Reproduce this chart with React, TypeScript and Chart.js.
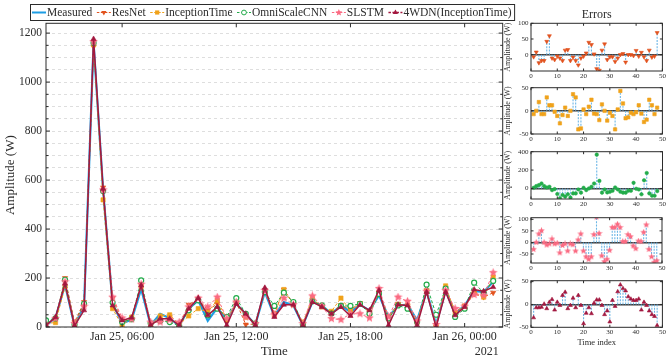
import React, { useEffect, useRef } from "react";
import { Chart, registerables } from "chart.js";

Chart.register(...registerables);

const FONT = "'Liberation Serif', 'Times New Roman', serif";
const INK = "#2b2b2b";

// ---------------- data ----------------
const timeLabels = [
  "2021-01-25T02:00", "2021-01-25T02:30", "2021-01-25T03:00", "2021-01-25T03:30",
  "2021-01-25T04:00", "2021-01-25T04:30", "2021-01-25T05:00", "2021-01-25T05:30",
  "2021-01-25T06:00", "2021-01-25T06:30", "2021-01-25T07:00", "2021-01-25T07:30",
  "2021-01-25T08:00", "2021-01-25T08:30", "2021-01-25T09:00", "2021-01-25T09:30",
  "2021-01-25T10:00", "2021-01-25T10:30", "2021-01-25T11:00", "2021-01-25T11:30",
  "2021-01-25T12:00", "2021-01-25T12:30", "2021-01-25T13:00", "2021-01-25T13:30",
  "2021-01-25T14:00", "2021-01-25T14:30", "2021-01-25T15:00", "2021-01-25T15:30",
  "2021-01-25T16:00", "2021-01-25T16:30", "2021-01-25T17:00", "2021-01-25T17:30",
  "2021-01-25T18:00", "2021-01-25T18:30", "2021-01-25T19:00", "2021-01-25T19:30",
  "2021-01-25T20:00", "2021-01-25T20:30", "2021-01-25T21:00", "2021-01-25T21:30",
  "2021-01-25T22:00", "2021-01-25T22:30", "2021-01-25T23:00", "2021-01-25T23:30",
  "2021-01-26T00:00", "2021-01-26T00:30", "2021-01-26T01:00", "2021-01-26T01:30",
];
const xStart = "2021-01-25T02:00";
const xEnd = "2021-01-26T02:00";
const xTickTimes = ["2021-01-25T06:00", "2021-01-25T12:00", "2021-01-25T18:00", "2021-01-26T00:00"];
const xTickLabels = ["Jan 25, 06:00", "Jan 25, 12:00", "Jan 25, 18:00", "Jan 26, 00:00"];
const yearLabel = "2021";
const yGridValues = [0, 50, 100, 150, 200, 250, 300, 350, 400, 450, 500, 550, 600, 650, 700, 750, 800, 850, 900, 950, 1000, 1050, 1100, 1150, 1200];
const yLabelValues = [0, 200, 400, 600, 800, 1000, 1200];

const measured = [5, 38, 172, 5, 88, 1160, 560, 95, 15, 30, 155, 7, 54, 36, 5, 75, 109, 25, 78, 30, 95, 52, 10, 143, 45, 102, 88, 8, 102, 88, 54, 88, 61, 91, 68, 129, 41, 88, 91, 27, 146, 10, 150, 54, 88, 146, 143, 185];
const resnet = [18, 30, 200, 20, 102, 1145, 570, 118, 25, 32, 172, 12, 30, 40, 8, 91, 115, 68, 95, 25, 100, 10, 12, 150, 55, 153, 95, 12, 110, 85, 58, 90, 70, 98, 62, 140, 35, 95, 85, 15, 150, 0, 160, 60, 88, 135, 122, 140];
const inception = [15, 18, 165, 12, 90, 1152, 519, 75, 5, 40, 165, 10, 45, 50, 10, 45, 75, 61, 110, 30, 100, 40, 15, 145, 50, 153, 90, 20, 116, 82, 64, 118, 68, 95, 60, 140, 40, 92, 90, 20, 145, 5, 168, 58, 85, 140, 122, 204];
const omni = [27, 35, 193, 10, 95, 1160, 555, 100, 20, 32, 190, 15, 25, 20, 5, 68, 109, 48, 75, 41, 118, 54, 14, 143, 86, 140, 102, 10, 105, 88, 55, 86, 86, 95, 54, 135, 35, 88, 75, 20, 173, 50, 157, 41, 75, 181, 140, 188];
const slstm = [10, 35, 185, 15, 85, 1165, 560, 122, 37, 32, 175, 20, 20, 30, 20, 82, 118, 82, 122, 34, 102, 41, 14, 150, 50, 118, 91, 14, 127, 85, 34, 30, 54, 54, 37, 157, 41, 122, 105, 25, 146, 10, 150, 75, 85, 132, 130, 222];
const wdn = [7, 40, 177, 5, 68, 1176, 564, 88, 27, 38, 170, 7, 34, 34, 7, 75, 118, 48, 82, 7, 95, 54, 7, 160, 41, 91, 91, 7, 102, 82, 54, 82, 45, 91, 68, 150, 7, 91, 88, 7, 143, 0, 143, 48, 82, 153, 146, 163];

const errIndex = [1, 2, 3, 4, 5, 6, 7, 8, 9, 10, 11, 12, 13, 14, 15, 16, 17, 18, 19, 20, 21, 22, 23, 24, 25, 26, 27, 28, 29, 30, 31, 32, 33, 34, 35, 36, 37, 38, 39, 40, 41, 42, 43, 44, 45, 46, 47, 48];
const errXTicks = [0, 10, 20, 30, 40, 50];
const errResNet = [-7, 8, -26, -19, -19, 42, 60, -11, -16, -5, -11, -19, 14, 16, -19, -8, -19, -33, -11, -5, 5, 39, 32, 2, -45, -50, 14, 34, -16, -7, -7, -22, -11, 0, 3, -24, 0, 0, -3, 13, -5, 7, -7, -19, 14, -8, -5, 70];
const errInception = [-7, 0, 19, -7, -7, 29, 12, 12, -2, -11, -27, -9, 7, -11, 0, 36, 29, -40, -38, 3, -7, 9, 24, -6, -7, -20, 14, 0, -21, -4, -11, -40, 3, 43, 16, -16, -14, -4, -7, -3, 12, -6, -24, -19, 24, 12, -7, 7];
const errOmni = [7, 25, 36, 54, 25, 11, 18, -18, -7, -61, -107, -71, -89, -64, -100, -54, -54, -11, -46, 7, -18, 0, 18, 54, 368, 82, -46, -11, -43, -36, -25, 11, -11, -36, -46, -46, -25, -25, 61, -4, -11, -64, 89, 168, -54, -79, -79, -29];
const errSLSTM = [-30, 0, 37, 51, 0, -11, -6, 15, -6, -3, -45, -13, -6, -37, -6, -10, -37, 11, 37, -37, -62, -73, -62, 34, 110, 39, -58, -83, -73, -34, 65, 65, 79, 65, 4, 4, 34, 25, -15, -27, 6, 4, 44, 76, -30, -62, -86, -79];
const err4WDN = [-29, -7, -7, -6, 1, -9, 5, 11, -12, 5, -2, 20, 27, -9, -2, 14, -7, 20, -2, -42, -19, -7, -20, 3, 10, 10, -2, -22, -14, -38, 9, -4, 28, 43, 35, 30, 17, 12, 9, 9, 12, -12, 5, -2, -14, -22, -26, -46];

// ---------------- styles ----------------
const C = {
  meas: "#1c9de4",
  res: "#e2531f",
  inc: "#f0a21b",
  omni: "#22ac4a",
  slstm: "#fb6a82",
  wdn: "#a3183f",
  stem: "#6cb6e6",
};

type Marker = "none" | "triDown" | "triUp" | "rect" | "circle" | "star";

const series: { name: string; data: number[]; color: string; width: number; dash: number[]; marker: Marker; order: number }[] = [
  { name: "Measured", data: measured, color: C.meas, width: 2.2, dash: [], marker: "none", order: 6 },
  { name: "ResNet", data: resnet, color: C.res, width: 1, dash: [3, 2], marker: "triDown", order: 5 },
  { name: "InceptionTime", data: inception, color: C.inc, width: 1, dash: [3, 2], marker: "rect", order: 4 },
  { name: "OmniScaleCNN", data: omni, color: C.omni, width: 1, dash: [3, 2], marker: "circle", order: 3 },
  { name: "SLSTM", data: slstm, color: C.slstm, width: 1, dash: [3, 2], marker: "star", order: 2 },
  { name: "4WDN(InceptionTime)", data: wdn, color: C.wdn, width: 1.5, dash: [], marker: "triUp", order: 1 },
];

const toH = (s: string) => (Date.parse(s) - Date.parse(xStart)) / 3600000;

function starPath(g: CanvasRenderingContext2D, cx: number, cy: number, R: number, r: number) {
  g.beginPath();
  for (let k = 0; k < 10; k++) {
    const rad = k % 2 === 0 ? R : r;
    const a = -Math.PI / 2 + (k * Math.PI) / 5;
    const px = cx + rad * Math.cos(a);
    const py = cy + rad * Math.sin(a);
    if (k === 0) g.moveTo(px, py);
    else g.lineTo(px, py);
  }
  g.closePath();
}

function starCanvas(color: string, size: number) {
  const c = document.createElement("canvas");
  c.width = size;
  c.height = size;
  const g = c.getContext("2d")!;
  starPath(g, size / 2, size / 2, size / 2, (size / 2) * 0.45);
  g.fillStyle = color;
  g.fill();
  return c;
}

function pointOpts(marker: Marker, color: string, r: number, hollow: boolean): any {
  switch (marker) {
    case "triDown":
      return { pointStyle: "triangle", pointRotation: 180, pointRadius: r, pointBackgroundColor: color, pointBorderColor: color, pointBorderWidth: 0.6 };
    case "triUp":
      return { pointStyle: "triangle", pointRotation: 0, pointRadius: r, pointBackgroundColor: color, pointBorderColor: color, pointBorderWidth: 0.6 };
    case "rect":
      return { pointStyle: "rect", pointRadius: r, pointBackgroundColor: color, pointBorderColor: color, pointBorderWidth: 0.6 };
    case "circle":
      return {
        pointStyle: "circle",
        pointRadius: r,
        pointBackgroundColor: hollow ? "#ffffff" : color,
        pointBorderColor: color,
        pointBorderWidth: hollow ? 1.2 : 0.5,
      };
    case "star":
      return { pointStyle: starCanvas(color, Math.round(r * 2.9)), pointRadius: r };
    default:
      return { pointRadius: 0 };
  }
}

function drawMarker(ctx: CanvasRenderingContext2D, m: Marker, x: number, y: number, r: number, color: string) {
  ctx.save();
  ctx.fillStyle = color;
  ctx.strokeStyle = color;
  ctx.setLineDash([]);
  ctx.lineWidth = 1;
  ctx.beginPath();
  if (m === "triUp" || m === "triDown") {
    const s = m === "triUp" ? 1 : -1;
    ctx.moveTo(x, y - s * r);
    ctx.lineTo(x + r * 0.866, y + s * r * 0.5);
    ctx.lineTo(x - r * 0.866, y + s * r * 0.5);
    ctx.closePath();
    ctx.fill();
  } else if (m === "rect") {
    ctx.rect(x - r * 0.7, y - r * 0.7, r * 1.4, r * 1.4);
    ctx.fill();
  } else if (m === "circle") {
    ctx.fillStyle = "#fff";
    ctx.arc(x, y, r * 0.8, 0, Math.PI * 2);
    ctx.fill();
    ctx.stroke();
  } else if (m === "star") {
    starPath(ctx, x, y, r * 1.2, r * 0.55);
    ctx.fill();
  }
  ctx.restore();
}

const mainDeco = {
  id: "mainDeco",
  afterDraw(chart: any) {
    const { ctx, chartArea: a, scales } = chart;
    const line = (x1: number, y1: number, x2: number, y2: number) => {
      ctx.beginPath();
      ctx.moveTo(x1, y1);
      ctx.lineTo(x2, y2);
      ctx.stroke();
    };
    ctx.save();
    ctx.strokeStyle = INK;
    ctx.lineWidth = 1;
    ctx.setLineDash([]);
    ctx.strokeRect(a.left, a.top, a.right - a.left, a.bottom - a.top);
    for (const v of yGridValues) {
      const y = scales.y.getPixelForValue(v);
      const len = v % 200 === 0 ? 4 : 2.5;
      line(a.left, y, a.left + len, y);
      line(a.right, y, a.right - len, y);
    }
    for (const t of xTickTimes) {
      const x = scales.x.getPixelForValue(toH(t));
      line(x, a.top, x, a.top + 4);
      line(x, a.bottom, x, a.bottom - 4);
    }
    ctx.fillStyle = INK;
    ctx.font = `12px ${FONT}`;
    ctx.textAlign = "right";
    ctx.textBaseline = "middle";
    ctx.fillText(yearLabel, a.right - 4, 351.5);

    // legend
    const ly = 12.5;
    const boxLeft = 30.5;
    ctx.font = `11.5px ${FONT}`;
    let x = 32;
    const pos: { x: number; tx: number }[] = [];
    for (const s of series) {
      const tw = ctx.measureText(s.name).width;
      pos.push({ x, tx: x + 15 });
      x = x + 15 + tw + 4.5;
    }
    const boxRight = x - 1.5;
    ctx.fillStyle = "#ffffff";
    ctx.fillRect(boxLeft, 4.5, boxRight - boxLeft, 16);
    ctx.strokeStyle = INK;
    ctx.lineWidth = 1;
    ctx.strokeRect(boxLeft, 4.5, boxRight - boxLeft, 16);
    series.forEach((s, i) => {
      const p = pos[i];
      ctx.save();
      ctx.strokeStyle = s.color;
      ctx.lineWidth = s.marker === "none" ? 2 : s.width;
      ctx.setLineDash(s.marker === "none" ? [] : [2.5, 1.5]);
      line(p.x, ly, p.x + 14, ly);
      ctx.restore();
      if (s.marker !== "none") drawMarker(ctx, s.marker, p.x + 7, ly, 3, s.color);
      ctx.fillStyle = INK;
      ctx.textAlign = "left";
      ctx.textBaseline = "middle";
      ctx.fillText(s.name, p.tx, ly + 0.5);
    });
    ctx.restore();
  },
};

function MainChart() {
  const ref = useRef<HTMLCanvasElement>(null);
  useEffect(() => {
    const xs = timeLabels.map(toH);
    const datasets = series.map((s) => ({
      label: s.name,
      data: s.data.map((y, i) => ({ x: xs[i], y })),
      borderColor: s.color,
      backgroundColor: s.color,
      borderWidth: s.width,
      borderDash: s.dash,
      tension: 0,
      order: s.order,
      ...pointOpts(s.marker, s.color, s.marker === "circle" ? 2.5 : 3, true),
    }));
    const chart = new Chart(ref.current!, {
      type: "line",
      data: { datasets },
      plugins: [mainDeco],
      options: {
        animation: false,
        responsive: false,
        maintainAspectRatio: false,
        layout: { padding: { top: 23.3, right: 164.3, left: 0, bottom: 0 } },
        plugins: { legend: { display: false }, tooltip: { enabled: false } },
        scales: {
          x: {
            type: "linear",
            min: 0,
            max: toH(xEnd),
            afterBuildTicks: (s: any) => {
              s.ticks = xTickTimes.map((t) => ({ value: toH(t) }));
            },
            afterFit: (s: any) => {
              s.height = 34;
            },
            ticks: {
              autoSkip: false,
              maxRotation: 0,
              padding: 3,
              color: INK,
              font: { family: FONT, size: 12 },
              callback: (v: any) => {
                const k = xTickTimes.findIndex((t) => Math.abs(toH(t) - Number(v)) < 1e-6);
                return k >= 0 ? xTickLabels[k] : "";
              },
            },
            grid: { display: false, drawTicks: false },
            border: { display: false },
            title: { display: true, text: "Time", color: INK, font: { family: FONT, size: 13 }, padding: { top: 0, bottom: 1.5 } },
          },
          y: {
            type: "linear",
            min: 0,
            max: 1240,
            afterBuildTicks: (s: any) => {
              s.ticks = yGridValues.map((v) => ({ value: v }));
            },
            afterFit: (s: any) => {
              s.width = 46;
            },
            ticks: {
              autoSkip: false,
              padding: 4,
              color: INK,
              font: { family: FONT, size: 11.5 },
              callback: (v: any) => (yLabelValues.includes(Number(v)) ? String(v) : ""),
            },
            grid: { color: "#d6d6d6", lineWidth: 0.8, drawTicks: false },
            border: { display: false, dash: [3, 3] },
            title: { display: true, text: "Amplitude (W)", color: INK, font: { family: FONT, size: 13 }, padding: { top: 3, bottom: 0 } },
          },
        },
      } as any,
    });
    return () => chart.destroy();
  }, []);
  return <canvas ref={ref} width={667} height={361} style={{ position: "absolute", left: 0, top: 0 }} />;
}

type PanelCfg = {
  name: string;
  values: number[];
  color: string;
  marker: Marker;
  min: number;
  max: number;
  ticks: number[];
  plotTop: number;
  plotBottom: number;
  title?: string;
  xTitle?: string;
};

const panels: PanelCfg[] = [
  { name: "ResNet", values: errResNet, color: C.res, marker: "triDown", min: -52, max: 100, ticks: [0, 50, 100], plotTop: 23.3, plotBottom: 71.3, title: "Errors" },
  { name: "InceptionTime", values: errInception, color: C.inc, marker: "rect", min: -50, max: 50, ticks: [-50, 0, 50], plotTop: 87.3, plotBottom: 134.3 },
  { name: "OmniScaleCNN", values: errOmni, color: C.omni, marker: "circle", min: -115, max: 400, ticks: [0, 200, 400], plotTop: 151, plotBottom: 199 },
  { name: "SLSTM", values: errSLSTM, color: C.slstm, marker: "star", min: -89, max: 107, ticks: [-50, 0, 50, 100], plotTop: 216.7, plotBottom: 263 },
  { name: "4WDN(InceptionTime)", values: err4WDN, color: C.wdn, marker: "triUp", min: -50, max: 52, ticks: [-50, 0, 50], plotTop: 279.5, plotBottom: 326.3, xTitle: "Time index" },
];

const panelMarkerRadius: Record<string, number> = { triDown: 2.3, triUp: 2.3, rect: 2.4, circle: 1.8, star: 2.5 };

function ErrorPanel({ p }: { p: PanelCfg }) {
  const ref = useRef<HTMLCanvasElement>(null);
  const canvasTop = p.title ? 0 : p.plotTop - 6;
  const padTop = p.plotTop - canvasTop;
  const xh = p.xTitle ? 361 - p.plotBottom : 10;
  const height = Math.round(p.plotBottom - canvasTop + xh);
  useEffect(() => {
    const deco = {
      id: "panelDeco",
      afterDraw(chart: any) {
        const { ctx, chartArea: a, scales } = chart;
        ctx.save();
        ctx.strokeStyle = INK;
        ctx.lineWidth = 1;
        ctx.setLineDash([]);
        ctx.strokeRect(a.left, a.top, a.right - a.left, a.bottom - a.top);
        const line = (x1: number, y1: number, x2: number, y2: number) => {
          ctx.beginPath();
          ctx.moveTo(x1, y1);
          ctx.lineTo(x2, y2);
          ctx.stroke();
        };
        for (const v of p.ticks) {
          const y = scales.y.getPixelForValue(v);
          line(a.left, y, a.left + 2.5, y);
          line(a.right, y, a.right - 2.5, y);
        }
        for (const v of errXTicks) {
          const x = scales.x.getPixelForValue(v);
          line(x, a.bottom, x, a.bottom - 2.5);
          line(x, a.top, x, a.top + 2.5);
        }
        if (p.title) {
          ctx.fillStyle = INK;
          ctx.font = `12px ${FONT}`;
          ctx.textAlign = "center";
          ctx.textBaseline = "middle";
          ctx.fillText(p.title, (a.left + a.right) / 2, 15);
        }
        ctx.restore();
      },
    };
    const stems = errIndex.flatMap((n, i) => [
      { x: n, y: 0 },
      { x: n, y: p.values[i] },
      { x: n, y: null },
    ]);
    const chart = new Chart(ref.current!, {
      type: "line",
      data: {
        datasets: [
          {
            label: p.name,
            data: errIndex.map((n, i) => ({ x: n, y: p.values[i] })),
            showLine: false,
            borderColor: p.color,
            backgroundColor: p.color,
            order: 0,
            ...pointOpts(p.marker, p.color, panelMarkerRadius[p.marker], false),
          },
          {
            label: p.name + " stem",
            data: stems,
            borderColor: C.stem,
            borderWidth: 1.1,
            borderDash: [2, 1.2],
            pointRadius: 0,
            spanGaps: false,
            order: 1,
          },
        ],
      },
      plugins: [deco],
      options: {
        animation: false,
        responsive: false,
        maintainAspectRatio: false,
        layout: { padding: { top: padTop, right: 3, left: 0, bottom: 0 } },
        plugins: { legend: { display: false }, tooltip: { enabled: false } },
        scales: {
          x: {
            type: "linear",
            min: 0,
            max: 50,
            afterBuildTicks: (s: any) => {
              s.ticks = errXTicks.map((v) => ({ value: v }));
            },
            afterFit: (s: any) => {
              s.height = xh;
            },
            ticks: { autoSkip: false, maxRotation: 0, padding: 1, color: INK, font: { family: FONT, size: 7 } },
            grid: { display: false, drawTicks: false },
            border: { display: false },
            title: p.xTitle
              ? { display: true, text: p.xTitle, color: INK, font: { family: FONT, size: 8.5 }, padding: { top: 0, bottom: 14 } }
              : { display: false },
          },
          y: {
            type: "linear",
            min: p.min,
            max: p.max,
            afterBuildTicks: (s: any) => {
              s.ticks = p.ticks.map((v) => ({ value: v }));
            },
            afterFit: (s: any) => {
              s.width = 31;
            },
            ticks: { autoSkip: false, padding: 2.5, color: INK, font: { family: FONT, size: 7 } },
            grid: {
              drawTicks: false,
              lineWidth: 1.6,
              color: (c: any) => (c.tick && c.tick.value === 0 ? "#3d3d3d" : "rgba(0,0,0,0)"),
            },
            border: { display: false },
            title: { display: true, text: "Amplitude (W)", color: INK, font: { family: FONT, size: 8 }, padding: { top: 3.2, bottom: 0 } },
          },
        },
      } as any,
    });
    return () => chart.destroy();
  }, []);
  return (
    <canvas
      ref={ref}
      width={167}
      height={height}
      style={{ position: "absolute", left: 500, top: canvasTop }}
    />
  );
}

export default function App() {
  return (
    <div style={{ position: "fixed", left: 0, top: 0, width: 667, height: 361, background: "#ffffff", overflow: "hidden" }}>
      <MainChart />
      {panels.map((p) => (
        <ErrorPanel key={p.name} p={p} />
      ))}
    </div>
  );
}
